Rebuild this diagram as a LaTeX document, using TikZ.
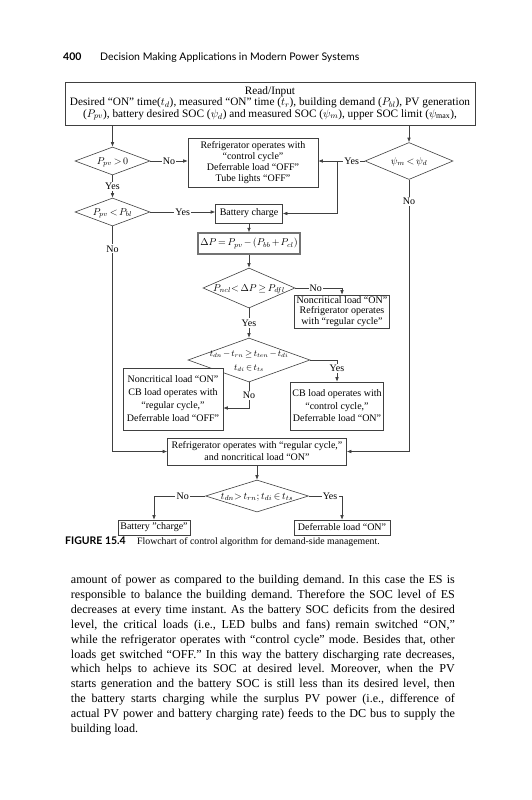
\documentclass[tikz,border=0pt]{standalone}
\usepackage{fontspec}
\setmainfont{Liberation Serif}
\newfontfamily\hdrfont{Lato}
\usetikzlibrary{shapes.geometric,arrows.meta}
\newcommand\dtxt[1]{\smash{\makebox[0pt]{\raisebox{-0.33em}{#1}}}}
\frenchspacing
\begin{document}
\begin{tikzpicture}[x=1pt,y=-1pt]
\medmuskip=2mu plus 1mu minus 2mu
\thickmuskip=3mu plus 2mu
\tikzset{
  fc/.style={font=\fontsize{10}{11}\selectfont},
  bx/.style={fc, draw=black!75, line width=0.6pt, align=center, fill=white, inner sep=0pt},
  dm/.style={fc, draw=black!75, line width=0.6pt, diamond, inner sep=0pt, fill=white},
  ar/.style={draw=black!75, line width=0.6pt, -{Latex[length=4.5pt,width=3.6pt]}},
  lab/.style={fc, fill=white, inner sep=1.2pt},
  txt/.style={inner sep=0pt, anchor=base west},
}
\fill[white] (0,0) rectangle (531,800);
\useasboundingbox (0,0) rectangle (531,800);

% header
\node[txt, font=\hdrfont\bfseries\fontsize{10.5}{12}\selectfont] (hnum) at (63,61) {400};
\node[txt, font=\hdrfont\fontsize{10.5}{12}\selectfont] (htitle) at (100,61) {Decision Making Applications in Modern Power Systems};

% flowchart nodes
\node[bx, minimum width=410pt, minimum height=43pt, font=\fontsize{11.3}{11.4}\selectfont] (read) at (270,103.5) {Read/Input\\Desired “ON” time($t_d$), measured “ON” time ($t_r$), building demand ($P_{bl}$), PV generation\\($P_{pv}$), battery desired SOC ($\psi_d$) and measured SOC ($\psi_m$), upper SOC limit ($\psi_{\max}$),};
\node[dm, minimum width=75pt, minimum height=28pt] (ppv) at (112.5,161) {\dtxt{$P_{pv}>0$}};
\node[bx, minimum width=130pt, minimum height=49pt, font=\fontsize{10}{10.8}\selectfont] (refc) at (253,162.5) {Refrigerator operates with\\“control cycle”\\Deferrable load “OFF”\\Tube lights “OFF”};
\node[dm, minimum width=88pt, minimum height=37pt] (psi) at (409,161) {\dtxt{$\psi_m<\psi_d$}};
\node[dm, minimum width=75pt, minimum height=28pt] (pbl) at (112.5,212) {\dtxt{$P_{pv}<P_{bl}$}};
\node[bx, minimum width=67pt, minimum height=19pt] (batt) at (249,213.5) {Battery charge};
\node[bx, minimum width=102pt, minimum height=21pt, draw=black!55, line width=1.3pt] (dp) at (249,243.5) {$\Delta P=P_{pv}-(P_{bb}+P_{cl})$};
\node[dm, minimum width=92pt, minimum height=40pt, font=\fontsize{9.6}{11}\selectfont] (ncl) at (249,288) {\dtxt{$P_{ncl}{<}\;\Delta P\geq P_{dfl}$}};
\node[bx, minimum width=95pt, minimum height=33pt, font=\fontsize{10}{10.5}\selectfont] (ncr) at (342,311.5) {Noncritical load “ON”\\Refrigerator operates\\with “regular cycle”};
\node[dm, minimum width=122pt, minimum height=44pt, font=\fontsize{9.2}{11}\selectfont] (tdi) at (249,360) {\dtxt{\renewcommand\arraystretch{1.25}\begin{tabular}{@{}c@{}}$t_{dn}-t_{rn}\geq t_{ten}-t_{di}$\\$t_{di}\in t_{ts}$\end{tabular}}};
\node[bx, minimum width=100pt, minimum height=62pt, font=\fontsize{10}{13}\selectfont] (lbx) at (173,399) {Noncritical load “ON”\\CB load operates with\\“regular cycle,”\\Deferrable load “OFF”};
\node[bx, minimum width=93pt, minimum height=48pt, font=\fontsize{10}{12.5}\selectfont] (cb) at (337,406) {CB load operates with\\“control cycle,”\\Deferrable load “ON”};
\node[bx, minimum width=179pt, minimum height=27pt, font=\fontsize{10}{12}\selectfont] (reg) at (257,451.5) {Refrigerator operates with “regular cycle,”\\and noncritical load “ON”};
\node[dm, minimum width=103pt, minimum height=32pt, font=\fontsize{9.6}{11}\selectfont] (fin) at (257,496) {\dtxt{$t_{dn}{>}\;t_{rn};t_{di}\in t_{ts}$}};
\node[bx, minimum width=72pt, minimum height=15pt] (bch) at (154,527.5) {Battery "charge"};
\node[bx, minimum width=96pt, minimum height=15pt] (def) at (342,527.5) {Deferrable load “ON”};

% connectors
\draw[ar] (ppv |- read.south) -- (ppv.north);
\draw[ar] (psi |- read.south) -- (psi.north);
\draw[ar] (ppv.east) -- node[lab]{No} (ppv.east -| refc.west);
\draw[ar] (ppv.south) -- node[lab]{Yes} (pbl.north);
\coordinate (br) at (337,161);
\draw[ar] (psi.west) -- node[lab,pos=0.28]{Yes} (psi.west -| refc.east);
\draw[ar] (br) |- (batt.east);
\draw[ar] (pbl.east) -- node[lab]{Yes} (pbl.east -| batt.west);
\draw[ar] (pbl.south) |- node[lab,pos=0.05]{No} (reg.west);
\draw[ar] (psi.south) |- node[lab,pos=0.04]{No} (reg.east);
\draw[ar] (batt.south) -- (dp.north);
\draw[ar] (dp.south) -- (ncl.north);
\draw[ar] (ncl.east) -| node[lab,pos=0.22]{No} (ncr.north);
\draw[ar] (ncl.south) -- node[lab]{Yes} (tdi.north);
\draw[ar] (tdi.east) -| node[lab,pos=0.7]{Yes} (cb.north);
\draw[ar] (tdi.south) |- node[lab,pos=0.25]{No} ([yshift=-9pt]lbx.east);
\draw[ar] (reg.south) -- (fin.north);
\draw[ar] (fin.west) -| node[lab,pos=0.22]{No} (bch.north);
\draw[ar] (fin.east) -| node[lab,pos=0.32]{Yes} (def.north);

% caption
\node[txt, font=\hdrfont\bfseries\fontsize{10.5}{12}\selectfont] (cfig) at (65,544) {FIGURE 15.4};
\node[txt, font=\fontsize{9.8}{12}\selectfont] (ctxt) at (137,544) {Flowchart of control algorithm for demand-side management.};

% body text
\node[txt] (body) at (70.7,583.5) {\parbox[t]{384pt}{\fontsize{12.1}{14.9}\selectfont
\makebox[\linewidth][s]{amount of power as compared to the building demand. In this case the ES is}\\
\makebox[\linewidth][s]{responsible to balance the building demand. Therefore the SOC level of ES}\\
\makebox[\linewidth][s]{decreases at every time instant. As the battery SOC deficits from the desired}\\
\makebox[\linewidth][s]{level, the critical loads (i.e., LED bulbs and fans) remain switched “ON,”}\\
\makebox[\linewidth][s]{while the refrigerator operates with “control cycle” mode. Besides that, other}\\
\makebox[\linewidth][s]{loads get switched “OFF.” In this way the battery discharging rate decreases,}\\
\makebox[\linewidth][s]{which helps to achieve its SOC at desired level. Moreover, when the PV}\\
\makebox[\linewidth][s]{starts generation and the battery SOC is still less than its desired level, then}\\
\makebox[\linewidth][s]{the battery starts charging while the surplus PV power (i.e., difference of}\\
\makebox[\linewidth][s]{actual PV power and battery charging rate) feeds to the DC bus to supply the}\\
building load.}};
\end{tikzpicture}
\end{document}
